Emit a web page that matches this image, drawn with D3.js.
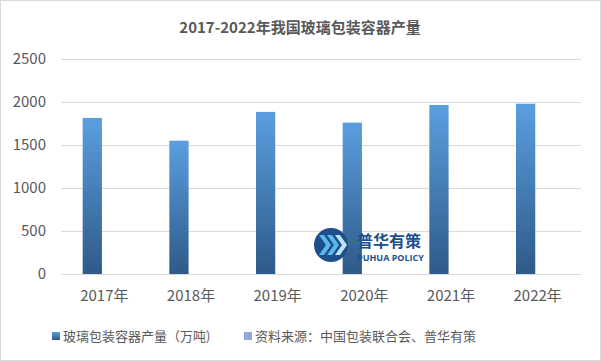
<!DOCTYPE html>
<html><head><meta charset="utf-8">
<script src="https://cdn.jsdelivr.net/npm/d3@7"></script>
<style>
html,body{margin:0;padding:0;background:#fff;}
svg{display:block;font-family:"Noto Sans CJK SC","Microsoft YaHei",sans-serif;}
</style></head>
<body><svg id="c" width="601" height="361"></svg>
<script>
const title = "2017-2022年我国玻璃包装容器产量";
const categories = ["2017年","2018年","2019年","2020年","2021年","2022年"];
const seriesNames = ["玻璃包装容器产量（万吨)","资料来源：中国包装联合会、普华有策"];
const production = [1815, 1550, 1885, 1760, 1965, 1980];
const sourceSeries = [null, null, null, null, null, null];
const yTicks = [0, 500, 1000, 1500, 2000, 2500];

const svg = d3.select("#c");
const W = 601, H = 361;
const m = {l:61, r:20, t:59, b:87};
const defs = svg.append("defs");
const g1 = defs.append("linearGradient").attr("id","gb").attr("x1",0).attr("y1",0).attr("x2",0).attr("y2",1);
g1.append("stop").attr("offset","0%").attr("stop-color","#5b9ee0");
g1.append("stop").attr("offset","100%").attr("stop-color","#2e5a88");

svg.append("rect").attr("x",0.5).attr("y",0.5).attr("width",W-1).attr("height",H-1)
  .attr("fill","#fff").attr("stroke","#d9d9d9");

const x0 = d3.scaleBand().domain(categories).range([m.l, W - m.r]).paddingInner(0.5).paddingOuter(0.25);
const x1 = d3.scaleBand().domain(seriesNames).range([0, x0.bandwidth()]).paddingInner(0.2);
const y = d3.scaleLinear().domain([0, 2500]).range([H - m.b, m.t]);

// gridlines
svg.append("g").selectAll("line").data(yTicks).join("line")
  .attr("x1", m.l).attr("x2", W - m.r)
  .attr("y1", d => Math.round(y(d)) + 0.5).attr("y2", d => Math.round(y(d)) + 0.5)
  .attr("stroke", "#d9d9d9").attr("stroke-width", 1);

// y labels
const yAxis = d3.axisLeft(y).tickValues(yTicks).tickFormat(d3.format("d")).tickSize(0).tickPadding(0);
const ya = svg.append("g").attr("transform", `translate(46,0)`).call(yAxis);
ya.select(".domain").remove();
ya.selectAll("text").attr("fill","#595959").style("font-size","15px").attr("font-family","'Noto Sans CJK SC',sans-serif");

// x labels
const xAxis = d3.axisBottom(x0).tickSize(0).tickPadding(0);
const xa = svg.append("g").attr("transform", `translate(0,${H - m.b + 16})`).call(xAxis);
xa.select(".domain").remove();
xa.selectAll("text").attr("fill","#595959").style("font-size","15px").attr("font-family","'Noto Sans CJK SC',sans-serif");

// bars
svg.append("g").selectAll("rect").data(production.map((v,i)=>({c:categories[i], v})))
  .join("rect")
  .attr("x", d => x0(d.c) + x1(seriesNames[0]))
  .attr("width", x1.bandwidth())
  .attr("y", d => y(d.v))
  .attr("height", d => y(0) - y(d.v))
  .attr("fill", "url(#gb)");

svg.append("g").selectAll("rect").data(sourceSeries.map((v,i)=>({c:categories[i], v}))).join("rect")
  .filter(d => d.v != null)
  .attr("x", d => x0(d.c) + x1(seriesNames[1]))
  .attr("width", x1.bandwidth())
  .attr("y", d => y(d.v)).attr("height", d => y(0) - y(d.v)).attr("fill","#94a8d4");

// title
svg.append("text").attr("x", 300).attr("y", 33).attr("text-anchor","middle")
  .attr("fill","#595959").style("font-size","15px").style("font-weight","bold").text(title);

// legend
const lg = svg.append("g");
const legendItems = [{x:52, color:"url(#gb)", t:seriesNames[0]}, {x:244, color:"#94a8d4", t:seriesNames[1]}];
legendItems.forEach(it => {
  lg.append("rect").attr("x", it.x).attr("y", 332).attr("width", 8).attr("height", 8).attr("fill", it.color);
  lg.append("text").attr("x", it.x + 11).attr("y", 341).attr("fill","#595959").style("font-size","13px").text(it.t);
});

// watermark logo
const wm = svg.append("g");
wm.append("circle").attr("cx", 331).attr("cy", 245).attr("r", 17).attr("fill", "#1d4f8c");
[0, 8, 16].forEach(dx => {
  wm.append("path")
    .attr("d", `M${319+dx},${235} L${326+dx},${245} L${319+dx},${255} L${324+dx},${255} L${331+dx},${245} L${324+dx},${235} Z`)
    .attr("fill", dx === 16 ? "#bfe3f7" : "#5bb8ea");
});
wm.append("text").attr("x", 357).attr("y", 247).attr("fill","#1d4f8c")
  .style("font-size","16px").style("font-weight","bold").text("普华有策");
wm.append("text").attr("x", 357).attr("y", 261).attr("fill","#1d4f8c")
  .style("font-size","9px").style("font-weight","bold").attr("font-family","'Open Sans',sans-serif").text("PUHUA POLICY");
</script></body></html>
